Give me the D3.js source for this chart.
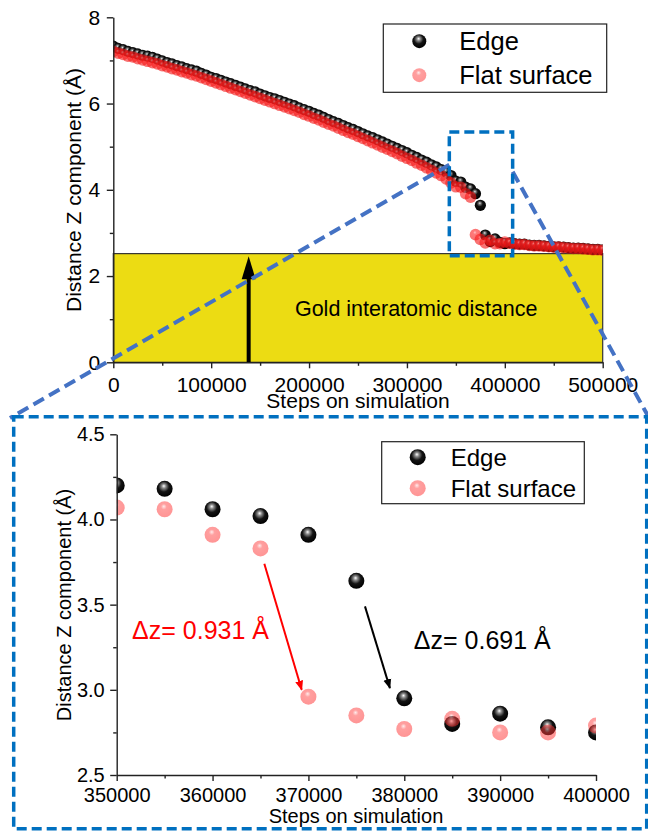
<!DOCTYPE html>
<meta charset="utf-8">
<style>
  body { margin: 0; background: #fff; }
  text { font-family: "Liberation Sans", Arial, sans-serif; fill: #000; }
  .axis path, .axis line { stroke: #222; stroke-width: 1.4; }
</style>
<script src="https://d3js.org/d3.v7.min.js"></script>
<body>
<div id="chart"></div>
<script>
// simulation steps, one sample every 5000 steps
let steps = d3.range(0, 500001, 5000);

// Distance Z component (Å) for the atom at the edge
let edgeZ = [
  7.33, 7.28, 7.25, 7.21, 7.18, 7.15, 7.12, 7.10, 7.07, 7.03,
  6.99, 6.95, 6.92, 6.88, 6.85, 6.81, 6.78, 6.75, 6.70, 6.66,
  6.61, 6.58, 6.54, 6.50, 6.46, 6.42, 6.38, 6.34, 6.30, 6.27,
  6.22, 6.18, 6.14, 6.11, 6.07, 6.03, 5.99, 5.95, 5.90, 5.86,
  5.82, 5.77, 5.73, 5.68, 5.63, 5.58, 5.54, 5.49, 5.44, 5.40,
  5.35, 5.30, 5.25, 5.21, 5.16, 5.11, 5.06, 5.01, 4.96, 4.91,
  4.86, 4.80, 4.75, 4.69, 4.64, 4.58, 4.53, 4.47, 4.41, 4.33,
  4.20, 4.18, 4.06, 4.02, 3.91, 3.64, 2.95, 2.80, 2.86, 2.78,
  2.75, 2.77, 2.75, 2.74, 2.74, 2.72, 2.71, 2.71, 2.70, 2.69,
  2.68, 2.68, 2.67, 2.66, 2.65, 2.65, 2.64, 2.63, 2.62, 2.62,
  2.61
];

// Distance Z component (Å) for the atom on the flat surface
let flatZ = [
  7.21, 7.17, 7.14, 7.10, 7.08, 7.04, 7.01, 6.98, 6.95, 6.92,
  6.88, 6.85, 6.81, 6.78, 6.74, 6.71, 6.67, 6.64, 6.60, 6.56,
  6.52, 6.48, 6.44, 6.40, 6.36, 6.32, 6.28, 6.24, 6.20, 6.16,
  6.12, 6.08, 6.04, 6.00, 5.96, 5.92, 5.88, 5.84, 5.80, 5.75,
  5.71, 5.66, 5.62, 5.57, 5.52, 5.48, 5.43, 5.38, 5.33, 5.29,
  5.24, 5.19, 5.14, 5.09, 5.04, 4.99, 4.94, 4.89, 4.84, 4.78,
  4.73, 4.68, 4.62, 4.57, 4.51, 4.45, 4.39, 4.33, 4.25, 4.16,
  4.07, 4.06, 3.91, 3.83, 2.96, 2.85, 2.77, 2.83, 2.75, 2.75,
  2.79, 2.76, 2.74, 2.73, 2.73, 2.71, 2.70, 2.70, 2.69, 2.68,
  2.67, 2.67, 2.66, 2.65, 2.64, 2.64, 2.63, 2.62, 2.61, 2.61,
  2.60
];

let seriesNames = ["Edge", "Flat surface"];

// tick values
let topXTicks = [0, 100000, 200000, 300000, 400000, 500000];
let topXMinor = [50000, 150000, 250000, 350000, 450000];
let topYTicks = [0, 2, 4, 6, 8];
let topYMinor = [1, 3, 5, 7];
let inXTicks = [350000, 360000, 370000, 380000, 390000, 400000];
let inXMinor = [355000, 365000, 375000, 385000, 395000];
let inYTicks = [2.5, 3.0, 3.5, 4.0, 4.5];
let inYMinor = [2.75, 3.25, 3.75, 4.25];

// gold interatomic distance band and arrow
let goldDistance = 2.52;
let goldArrowStep = 138300;
let goldLabel = "Gold interatomic distance";

// zoomed window (in top chart data units)
let zoomWindow = {x0: 343300, x1: 408000, y0: 2.47, y1: 5.34};

// the two jumps annotated in the inset
let jumps = [
  {text: "\u0394z= 0.931 \u00c5", color: "#ff0000", tx: 351600, ty: 3.30,
   from: [365400, 3.74], to: [369300, 3.0]},
  {text: "\u0394z= 0.691 \u00c5", color: "#000000", tx: 381000, ty: 3.24,
   from: [375900, 3.49], to: [378500, 3.01]}
];

let points = steps.map((s, i) => ({step: s, edge: edgeZ[i], flat: flatZ[i]}));

let W = 648, H = 831;
let svg = d3.select("#chart").append("svg")
  .attr("width", W).attr("height", H);

let defs = svg.append("defs");

// 球形的渐变填充
function ball(id, stops, fy) {
  let gr = defs.append("radialGradient").attr("id", id)
    .attr("cx", "0.45").attr("cy", "0.4").attr("r", "0.6")
    .attr("fx", "0.45").attr("fy", fy);
  stops.forEach(s => gr.append("stop").attr("offset", s[0]).attr("stop-color", s[1]));
}
ball("ballBlack", [[0, "#ffffff"], [0.22, "#8a8a8a"], [0.55, "#141414"], [1, "#000000"]], "0.32");
ball("ballPink", [[0, "#ffd8d8"], [0.3, "#ff4040"], [1, "#ff2a2a"]], "0.32");
ball("ballBlackS", [[0, "#e8e8e8"], [0.18, "#777"], [0.45, "#101010"], [1, "#000000"]], "0.3");
ball("ballRedS", [[0, "#ff9a9a"], [0.25, "#ff2020"], [1, "#f01010"]], "0.3");

let fills = {edge: "url(#ballBlack)", flat: "url(#ballPink)"};
let fillsSmall = {edge: "url(#ballBlackS)", flat: "url(#ballRedS)"};
let opac = {edge: 1, flat: 0.5};

// ---------------- top chart ----------------
let topBox = {left: 113.3, right: 602.7, top: 17.3, bottom: 362.3};

let x1 = d3.scaleLinear().domain([0, 500000]).range([topBox.left, topBox.right]);
let y1 = d3.scaleLinear().domain([0, 8]).range([topBox.bottom, topBox.top]);

let g1 = svg.append("g");

// 金色的区域
g1.append("rect")
  .attr("x", x1(0)).attr("y", y1(goldDistance))
  .attr("width", x1(500000) - x1(0))
  .attr("height", y1(0) - y1(goldDistance))
  .attr("fill", "#ecdc13")
  .attr("stroke", "#333").attr("stroke-width", 1.2);

g1.append("text")
  .attr("x", x1(309500)).attr("y", y1(1.07))
  .attr("text-anchor", "middle")
  .style("font-size", "21.5px")
  .text(goldLabel);

// 黑色箭头
let ax = x1(goldArrowStep);
g1.append("line")
  .attr("x1", ax).attr("x2", ax)
  .attr("y1", y1(0)).attr("y2", y1(goldDistance) + 18)
  .attr("stroke", "#000").attr("stroke-width", 4);
g1.append("path")
  .attr("d", `M${ax},${y1(2.46)} L${ax - 7},${y1(2.46) + 23} L${ax + 7},${y1(2.46) + 23} Z`)
  .attr("fill", "#000");

defs.append("clipPath").attr("id", "clipTop").append("rect")
  .attr("x", topBox.left).attr("y", 0)
  .attr("width", topBox.right - topBox.left).attr("height", topBox.bottom);

let dots1 = g1.append("g").attr("clip-path", "url(#clipTop)");
["edge", "flat"].forEach(k => {
  dots1.append("g").selectAll("circle")
    .data(points)
    .join("circle")
    .attr("cx", d => x1(d.step))
    .attr("cy", d => y1(d[k]))
    .attr("r", k === "edge" ? 5.6 : 5.8)
    .attr("fill", fillsSmall[k])
    .attr("opacity", k === "edge" ? 1 : 0.6);
});

// 坐标轴
function drawAxes(g, xs, ys, xt, xm, yt, ym, fontSize, xPad, yPad, fmtY) {
  let gx = g.append("g").attr("class", "axis")
    .attr("transform", `translate(0,${ys.range()[0]})`)
    .call(d3.axisBottom(xs).tickValues(xt).tickSize(6).tickPadding(xPad).tickSizeOuter(0).tickFormat(d3.format("d")));
  gx.selectAll("text").style("font-size", fontSize + "px");
  g.append("g").attr("class", "axis")
    .attr("transform", `translate(0,${ys.range()[0]})`)
    .call(d3.axisBottom(xs).tickValues(xm).tickSize(3.5).tickSizeOuter(0).tickFormat(""))
    .select(".domain").remove();

  let gy = g.append("g").attr("class", "axis")
    .attr("transform", `translate(${xs.range()[0]},0)`)
    .call(d3.axisLeft(ys).tickValues(yt).tickSize(6.5).tickPadding(yPad).tickSizeOuter(0).tickFormat(fmtY));
  gy.selectAll("text").style("font-size", fontSize + "px");
  g.append("g").attr("class", "axis")
    .attr("transform", `translate(${xs.range()[0]},0)`)
    .call(d3.axisLeft(ys).tickValues(ym).tickSize(3.5).tickSizeOuter(0).tickFormat(""))
    .select(".domain").remove();
}

drawAxes(g1, x1, y1, topXTicks, topXMinor, topYTicks, topYMinor, 21, 8.5, 6.5, d3.format("d"));

g1.append("text")
  .attr("x", (topBox.left + topBox.right) / 2).attr("y", 408)
  .attr("text-anchor", "middle")
  .style("font-size", "21px")
  .text("Steps on simulation");

g1.append("text")
  .attr("transform", `translate(81,190) rotate(-90)`)
  .attr("text-anchor", "middle")
  .style("font-size", "21px")
  .text("Distance Z component (\u00c5)");

// 图例
function drawLegend(g, x, y, w, h, fontSize, r, rowGap, textDx) {
  g.append("rect").attr("x", x).attr("y", y).attr("width", w).attr("height", h)
    .attr("fill", "#fff").attr("stroke", "#222").attr("stroke-width", 1.2);
  ["edge", "flat"].forEach((k, i) => {
    let cy = y + h / 2 + (i - 0.5) * rowGap;
    g.append("circle").attr("cx", x + 36).attr("cy", cy).attr("r", r)
      .attr("fill", fills[k]).attr("opacity", opac[k]);
    g.append("text").attr("x", x + textDx).attr("y", cy).attr("dy", "0.35em")
      .style("font-size", fontSize + "px")
      .text(seriesNames[i]);
  });
}
drawLegend(g1, 383.3, 24, 223.4, 68.3, 25.5, 7, 34, 76);

// ---------------- inset ----------------
let ins = {left: 116.7, right: 596, top: 434.3, bottom: 775};
let x2 = d3.scaleLinear().domain([350000, 400000]).range([ins.left, ins.right]);
let y2 = d3.scaleLinear().domain([2.5, 4.5]).range([ins.bottom, ins.top]);

let g2 = svg.append("g");

defs.append("clipPath").attr("id", "clipIn").append("rect")
  .attr("x", ins.left).attr("y", ins.top - 20)
  .attr("width", ins.right - ins.left).attr("height", ins.bottom - ins.top + 20);

let sub = points.filter(d => d.step >= 350000 && d.step <= 400000);
let dots2 = g2.append("g").attr("clip-path", "url(#clipIn)");
["edge", "flat"].forEach(k => {
  dots2.append("g").selectAll("circle")
    .data(sub)
    .join("circle")
    .attr("cx", d => x2(d.step))
    .attr("cy", d => y2(d[k]))
    .attr("r", 8)
    .attr("fill", fills[k])
    .attr("opacity", opac[k]);
});

drawAxes(g2, x2, y2, inXTicks, inXMinor, inYTicks, inYMinor, 20, 6.8, 5.5, d3.format(".1f"));

g2.append("text")
  .attr("x", 356).attr("y", 823)
  .attr("text-anchor", "middle")
  .style("font-size", "20px")
  .text("Steps on simulation");

g2.append("text")
  .attr("transform", `translate(71,605) rotate(-90)`)
  .attr("text-anchor", "middle")
  .style("font-size", "20px")
  .text("Distance Z component (\u00c5)");

drawLegend(g2, 381.7, 441.7, 202.6, 62, 24, 8, 31, 69);

// 标注箭头
jumps.forEach((j, i) => {
  let mk = defs.append("marker").attr("id", "ah" + i)
    .attr("viewBox", "0 0 10 10").attr("refX", 9).attr("refY", 5)
    .attr("markerWidth", 5).attr("markerHeight", 5)
    .attr("markerUnits", "strokeWidth").attr("orient", "auto");
  mk.append("path").attr("d", "M0,1 L10,5 L0,9 Z").attr("fill", j.color);
  g2.append("line")
    .attr("x1", x2(j.from[0])).attr("y1", y2(j.from[1]))
    .attr("x2", x2(j.to[0])).attr("y2", y2(j.to[1]))
    .attr("stroke", j.color).attr("stroke-width", 2)
    .attr("marker-end", `url(#ah${i})`);
  g2.append("text")
    .attr("x", x2(j.tx)).attr("y", y2(j.ty))
    .style("font-size", "25px")
    .style("fill", j.color)
    .text(j.text);
});

// ---------------- zoom box and connectors ----------------
let zx0 = x1(zoomWindow.x0), zx1 = x1(zoomWindow.x1);
let zy0 = y1(zoomWindow.y1), zy1 = y1(zoomWindow.y0);

svg.append("line")
  .attr("x1", zx0).attr("y1", y1(4.58)).attr("x2", 10).attr("y2", 418)
  .attr("stroke", "#4472c4").attr("stroke-width", 4).attr("stroke-dasharray", "12,6");
svg.append("line")
  .attr("x1", zx1).attr("y1", y1(4.42)).attr("x2", 648).attr("y2", 416)
  .attr("stroke", "#4472c4").attr("stroke-width", 4).attr("stroke-dasharray", "12,6");

svg.append("rect")
  .attr("x", zx0).attr("y", zy0).attr("width", zx1 - zx0).attr("height", zy1 - zy0)
  .attr("fill", "none").attr("stroke", "#0070c0").attr("stroke-width", 3.5)
  .attr("stroke-dasharray", "10,5");

svg.append("rect")
  .attr("x", 13.7).attr("y", 416.7).attr("width", 633).attr("height", 412)
  .attr("fill", "none").attr("stroke", "#0070c0").attr("stroke-width", 3.5)
  .attr("stroke-dasharray", "10,5");
</script>
</body>
